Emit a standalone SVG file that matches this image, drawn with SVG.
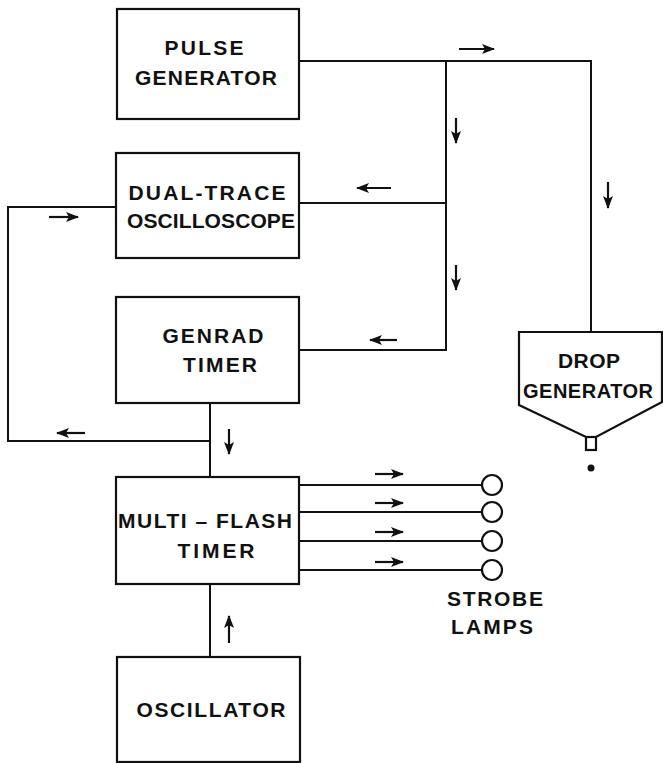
<svg xmlns="http://www.w3.org/2000/svg" width="663" height="763" viewBox="0 0 663 763">
<defs>
<style>
.box{fill:none;stroke:#111;stroke-width:2.2}
.ln{fill:none;stroke:#111;stroke-width:2}
.ar{fill:none;stroke:#111;stroke-width:2.2;marker-end:url(#ah)}
.t{font-family:"Liberation Sans",Arial,sans-serif;font-size:21px;font-weight:bold;fill:#111;text-anchor:middle}
</style>
<marker id="ah" markerUnits="userSpaceOnUse" markerWidth="14" markerHeight="12" refX="12" refY="5" orient="auto">
<path d="M0,0 L13,5 L0,10 L3,5 Z" fill="#111"/>
</marker>
</defs>
<rect width="663" height="763" fill="#fff"/>
<g id="connectors">
<path class="ln" d="M299,61 H591 V332"/>
<path class="ln" d="M446,61 V350 H299"/>
<path class="ln" d="M299,203 H446"/>
<path class="ln" d="M116,207 H8 V441 H210"/>
<path class="ln" d="M210,403 V477"/>
<path class="ln" d="M210,584 V657"/>
<path class="ln" d="M299,485 H482 M299,512 H482 M299,541 H482 M299,570 H482"/>
<path class="ar" d="M459,49 H494"/>
<path class="ar" d="M456,118 V143"/>
<path class="ar" d="M391,188 H357"/>
<path class="ar" d="M608,182 V208"/>
<path class="ar" d="M49,217 H78"/>
<path class="ar" d="M456,265 V290"/>
<path class="ar" d="M397,340 H370"/>
<path class="ar" d="M85,433 H57"/>
<path class="ar" d="M229,429 V454"/>
<path class="ar" d="M375,474 H403"/>
<path class="ar" d="M375,503 H403"/>
<path class="ar" d="M375,532 H403"/>
<path class="ar" d="M375,562 H403"/>
<path class="ar" d="M229,643 V616"/>
</g>
<g id="pulse-generator">
<rect class="box" x="117" y="9" width="182" height="110"/>
<text class="t" x="204" y="55" textLength="79" lengthAdjust="spacing">PULSE</text>
<text class="t" x="206" y="85" textLength="142" lengthAdjust="spacing">GENERATOR</text>
</g>
<g id="dual-trace-oscilloscope">
<rect class="box" x="116" y="153" width="183" height="105"/>
<text class="t" x="207" y="200" textLength="157" lengthAdjust="spacing">DUAL-TRACE</text>
<text class="t" x="211" y="228" textLength="168" lengthAdjust="spacing">OSCILLOSCOPE</text>
</g>
<g id="genrad-timer">
<rect class="box" x="116" y="297" width="183" height="106"/>
<text class="t" x="213" y="343" textLength="101" lengthAdjust="spacing">GENRAD</text>
<text class="t" x="220" y="372" textLength="74" lengthAdjust="spacing">TIMER</text>
</g>
<g id="multi-flash-timer">
<rect class="box" x="116" y="477" width="183" height="107"/>
<text class="t" x="205" y="528" textLength="174" lengthAdjust="spacing">MULTI – FLASH</text>
<text class="t" x="216" y="558" textLength="77" lengthAdjust="spacing">TIMER</text>
</g>
<g id="oscillator">
<rect class="box" x="117" y="657" width="183" height="105"/>
<text class="t" x="211" y="717" textLength="149" lengthAdjust="spacing">OSCILLATOR</text>
</g>
<g id="drop-generator">
<path class="box" d="M519,332 H662 V402 L596,437 H586 L519,405 Z"/>
<rect class="box" x="586" y="437" width="10" height="13"/>
<circle cx="591" cy="468" r="3.5" fill="#111"/>
<text class="t" x="589" y="368" textLength="62" lengthAdjust="spacing">DROP</text>
<text class="t" x="588" y="398" style="font-size:20px" textLength="130" lengthAdjust="spacing">GENERATOR</text>
</g>
<g id="strobe-lamps">
<circle class="box" cx="492" cy="485" r="10"/>
<circle class="box" cx="492" cy="512" r="10"/>
<circle class="box" cx="492" cy="541" r="10"/>
<circle class="box" cx="492" cy="570" r="10"/>
<text class="t" x="495" y="606" textLength="96" lengthAdjust="spacing">STROBE</text>
<text class="t" x="492" y="634" textLength="82" lengthAdjust="spacing">LAMPS</text>
</g>
</svg>
